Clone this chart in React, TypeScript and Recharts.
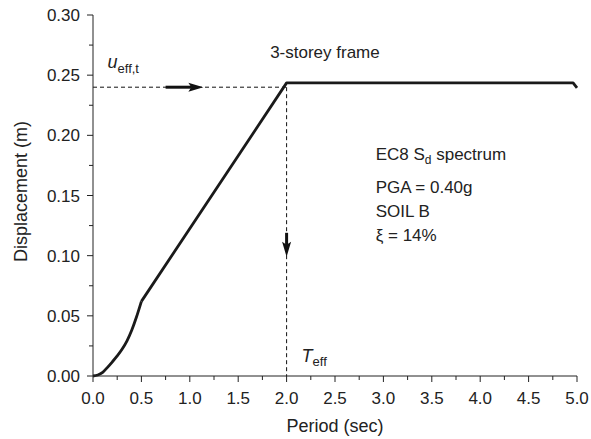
import { LineChart, Line, XAxis, YAxis, ReferenceLine, ReferenceDot } from "recharts";

// EC8 displacement spectrum
const periods = [0, 0.05, 0.1, 0.15, 0.2, 0.25, 0.3, 0.35, 0.4, 0.45, 0.5, 2.0, 4.96, 5.0];
const displacements = [0, 0.0008, 0.003, 0.0072, 0.0118, 0.0167, 0.0222, 0.029, 0.038, 0.0492, 0.062, 0.2436, 0.2436, 0.2395];

const xMajorTicks = [0, 0.5, 1.0, 1.5, 2.0, 2.5, 3.0, 3.5, 4.0, 4.5, 5.0];
const xMinorTicks = [0.25, 0.75, 1.25, 1.75, 2.25, 2.75, 3.25, 3.75, 4.25, 4.75];
const yMajorTicks = [0, 0.05, 0.1, 0.15, 0.2, 0.25, 0.3];
const yMinorTicks = [0.025, 0.075, 0.125, 0.175, 0.225, 0.275];

const uEffT = 0.24;
const tEff = 2.0;
const tC = 0.5; // corner period, curved part before, straight after

const data = periods.map((t, i) => ({
  T: t,
  low: t <= tC ? displacements[i] : null,
  high: t >= tC ? displacements[i] : null,
}));

const FONT = '"Liberation Sans", Arial, sans-serif';
const INK = "#222";

const isIn = (arr: number[], v: number) => arr.some((a) => Math.abs(a - v) < 1e-6);

const XTick = (props: any) => {
  const { x, y, payload } = props;
  const major = isIn(xMajorTicks, payload.value);
  return (
    <g>
      <line x1={x} y1={y} x2={x} y2={y + (major ? 6 : 4)} stroke={INK} strokeWidth={1} />
      {major && (
        <text x={x} y={y + 28} textAnchor="middle" fontSize={17} fontFamily={FONT} fill={INK}>
          {payload.value.toFixed(1)}
        </text>
      )}
    </g>
  );
};

const YTick = (props: any) => {
  const { x, y, payload } = props;
  const major = isIn(yMajorTicks, payload.value);
  return (
    <g>
      <line x1={x - (major ? 6 : 4)} y1={y} x2={x} y2={y} stroke={INK} strokeWidth={1} />
      {major && (
        <text x={x - 13} y={y + 6} textAnchor="end" fontSize={17} fontFamily={FONT} fill={INK}>
          {payload.value.toFixed(2)}
        </text>
      )}
    </g>
  );
};

const Arrow = (props: any) => {
  const { x1, y1, x2, y2 } = props;
  const dx = x2 - x1;
  const dy = y2 - y1;
  const len = Math.sqrt(dx * dx + dy * dy) || 1;
  const ux = dx / len;
  const uy = dy / len;
  const headLen = 15;
  const headHalf = 4.5;
  const bx = x2 - ux * headLen;
  const by = y2 - uy * headLen;
  const pts = [
    [x2, y2],
    [bx - uy * headHalf, by + ux * headHalf],
    [x2 - ux * (headLen - 3), y2 - uy * (headLen - 3)],
    [bx + uy * headHalf, by - ux * headHalf],
  ]
    .map((p) => p.join(","))
    .join(" ");
  return (
    <g>
      <line x1={x1} y1={y1} x2={bx + ux * 3} y2={by + uy * 3} stroke="#111" strokeWidth={3} />
      <polygon points={pts} fill="#111" />
    </g>
  );
};

const annotation = (content: (cx: number, cy: number) => any) => ({
  content: (p: any) => {
    const vb = p.viewBox || {};
    const cx = vb.x + (vb.width || 0) / 2;
    const cy = vb.y + (vb.height || 0) / 2;
    return content(cx, cy);
  },
});

const txt = { fontFamily: FONT, fill: INK, fontSize: 17 };

export default function App() {
  return (
    <div style={{ position: "absolute", left: 0, top: 0, background: "#fff" }}>
      <LineChart width={591} height={439} data={data} margin={{ top: 15, right: 14, bottom: 0, left: 0 }}>
        <XAxis
          dataKey="T"
          type="number"
          domain={[0, 5]}
          ticks={[...xMajorTicks, ...xMinorTicks].sort((a, b) => a - b)}
          interval={0}
          height={63}
          tickSize={0}
          tickMargin={0}
          tickLine={false}
          tick={<XTick />}
          axisLine={{ stroke: INK, strokeWidth: 1 }}
          label={{ value: "Period (sec)", position: "insideBottom", offset: 7, fontSize: 18, fontFamily: FONT, fill: INK }}
        />
        <YAxis
          type="number"
          domain={[0, 0.3]}
          ticks={[...yMajorTicks, ...yMinorTicks].sort((a, b) => a - b)}
          interval={0}
          width={93}
          tickSize={0}
          tickMargin={0}
          tickLine={false}
          tick={<YTick />}
          axisLine={{ stroke: INK, strokeWidth: 1 }}
          label={{
            content: (p: any) => {
              const vb = p.viewBox;
              const cx = vb.x + 21;
              const cy = vb.y + vb.height / 2 - 4;
              return (
                <text
                  x={cx}
                  y={cy}
                  transform={`rotate(-90, ${cx}, ${cy})`}
                  textAnchor="middle"
                  dominantBaseline="central"
                  fontSize={18}
                  fontFamily={FONT}
                  fill={INK}
                >
                  Displacement (m)
                </text>
              );
            },
          }}
        />
        <ReferenceLine
          segment={[
            { x: 0, y: uEffT },
            { x: tEff, y: uEffT },
          ]}
          stroke="#111"
          strokeWidth={1}
          strokeDasharray="4 3"
        />
        <ReferenceLine
          segment={[
            { x: tEff, y: uEffT },
            { x: tEff, y: 0 },
          ]}
          stroke="#111"
          strokeWidth={1}
          strokeDasharray="4 3"
        />
        <ReferenceLine
          segment={[
            { x: 0.75, y: uEffT },
            { x: 1.14, y: uEffT },
          ]}
          shape={Arrow}
        />
        <ReferenceLine
          segment={[
            { x: tEff, y: 0.119 },
            { x: tEff, y: 0.099 },
          ]}
          shape={Arrow}
        />
        <Line
          dataKey="low"
          type="monotone"
          stroke="#1a1a1a"
          strokeWidth={2.8}
          dot={false}
          connectNulls={false}
          isAnimationActive={false}
        />
        <Line
          dataKey="high"
          type="linear"
          stroke="#1a1a1a"
          strokeWidth={2.8}
          strokeLinejoin="round"
          dot={false}
          connectNulls={false}
          isAnimationActive={false}
        />
        <ReferenceDot
          x={0.15}
          y={0.2558}
          r={0}
          fill="none"
          stroke="none"
          label={annotation((cx, cy) => (
            <text x={cx} y={cy} {...txt}>
              <tspan fontStyle="italic" fontSize={18}>u</tspan>
              <tspan fontSize={13} dy={5}>eff,t</tspan>
            </text>
          ))}
        />
        <ReferenceDot
          x={1.83}
          y={0.264}
          r={0}
          fill="none"
          stroke="none"
          label={annotation((cx, cy) => (
            <text x={cx} y={cy} {...txt}>
              3-storey frame
            </text>
          ))}
        />
        <ReferenceDot
          x={2.92}
          y={0.1794}
          r={0}
          fill="none"
          stroke="none"
          label={annotation((cx, cy) => (
            <text x={cx} y={cy} {...txt}>
              EC8 S<tspan fontSize={12} dy={4}>d</tspan>
              <tspan dy={-4}> spectrum</tspan>
            </text>
          ))}
        />
        <ReferenceDot
          x={2.92}
          y={0.152}
          r={0}
          fill="none"
          stroke="none"
          label={annotation((cx, cy) => (
            <text x={cx} y={cy} {...txt}>
              PGA = 0.40g
            </text>
          ))}
        />
        <ReferenceDot
          x={2.92}
          y={0.132}
          r={0}
          fill="none"
          stroke="none"
          label={annotation((cx, cy) => (
            <text x={cx} y={cy} {...txt}>
              SOIL B
            </text>
          ))}
        />
        <ReferenceDot
          x={2.92}
          y={0.112}
          r={0}
          fill="none"
          stroke="none"
          label={annotation((cx, cy) => (
            <text x={cx} y={cy} {...txt}>
              ξ = 14%
            </text>
          ))}
        />
        <ReferenceDot
          x={2.155}
          y={0.0119}
          r={0}
          fill="none"
          stroke="none"
          label={annotation((cx, cy) => (
            <text x={cx} y={cy} {...txt}>
              <tspan fontStyle="italic" fontSize={18}>T</tspan>
              <tspan fontSize={13} dy={4}>eff</tspan>
            </text>
          ))}
        />
      </LineChart>
    </div>
  );
}
